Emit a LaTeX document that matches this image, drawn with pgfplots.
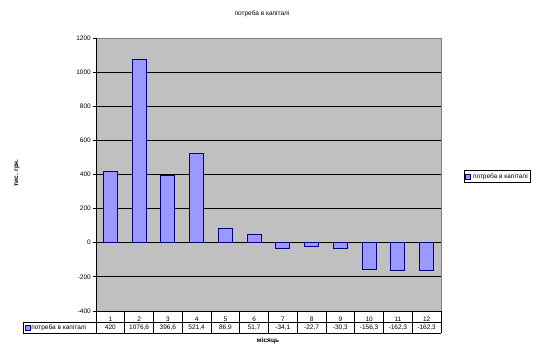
\documentclass[border=0pt]{standalone}
\usepackage{fontspec}
\setmainfont{Liberation Sans}
\usepackage{pgfplots}
\pgfplotsset{compat=1.18}
\definecolor{bgray}{RGB}{192,192,192}
\definecolor{barfill}{RGB}{153,153,255}
\definecolor{baredge}{RGB}{0,0,128}
\definecolor{edgegray}{RGB}{128,128,128}
\begin{document}
\begin{tikzpicture}[font=\fontsize{6.5bp}{7.5bp}\selectfont]
\path[use as bounding box] (0,0) rectangle (543bp,355bp);
\begin{axis}[
  at={(96bp,44bp)}, anchor=south west,
  scale only axis, width=345bp, height=273bp,
  xmin=0.5, xmax=12.5, ymin=-400, ymax=1200,
  ytick={-400,-200,...,1200},
  xtick={1,...,12},
  x tick label style={anchor=center, yshift=-5.5bp, inner sep=0pt},
  major x tick style={draw=none},
  ytick pos=left, tick align=outside,
  major tick length=3bp,
  y tick style={black, line width=0.8bp},
  y tick label style={inner sep=0pt, xshift=-2bp},
  /pgf/number format/assume math mode=true,
  /pgf/number format/1000 sep={},
  ymajorgrids, grid style={black, line width=0.8bp},
  axis background/.style={fill=bgray},
  axis line style={draw=none},
  legend style={at={(1.0667,0.4927)}, anchor=west, draw=black, line width=0.8bp,
    inner sep=1pt, font=\fontsize{6.5bp}{7.5bp}\selectfont},
  legend image code/.code={\draw[fill=barfill,draw=baredge,line width=0.6bp] (0bp,-2.5bp) rectangle (5bp,2.5bp);},
  clip=false,
]
\addplot[ybar, bar width=14bp, fill=barfill, draw=baredge, line width=0.8bp]
  coordinates {(1,420) (2,1076.6) (3,396.6) (4,521.4) (5,86.9) (6,51.7)
               (7,-34.1) (8,-22.7) (9,-30.3) (10,-156.3) (11,-162.3) (12,-162.3)};
\addlegendentry{потреба в капіталі}
\draw[edgegray, line width=0.8bp] (rel axis cs:0,1) -- (rel axis cs:1,1) -- (rel axis cs:1,0);
\draw[black, line width=0.8bp] (rel axis cs:0,0) -- (rel axis cs:0,1);
\end{axis}
% data table below the axis
\begin{scope}[x=1bp, y=1bp, line width=0.8bp]
\draw (96,44) -- (441,44);
\draw (23,33) -- (441,33);
\draw (23,22) -- (441,22);
\draw (23,33) -- (23,22);
\foreach \k in {0,...,12} {\draw ({96+28.75*\k},44) -- ({96+28.75*\k},22);}
\draw[fill=barfill,draw=baredge,line width=0.6bp] (25,25) rectangle (30,30);
\node[anchor=west, inner sep=0pt] at (31,27.5) {потреба в капіталі};
\foreach \v [count=\i] in {420,{1076,6},{396,6},{521,4},{86,9},{51,7},{-34,1},{-22,7},{-30,3},{-156,3},{-162,3},{-162,3}}
  {\node[inner sep=0pt] at ({96+28.75*(\i-0.5)},27.5) {\v};}
\node at (262,341) {потреба в капіталі};
\node[font=\fontsize{6.5bp}{7.5bp}\selectfont\bfseries] at (268,14) {місяць};
\node[rotate=90, font=\fontsize{6.5bp}{7.5bp}\selectfont\bfseries] at (17,182) {тис. грн.};
\end{scope}
\end{tikzpicture}
\end{document}
